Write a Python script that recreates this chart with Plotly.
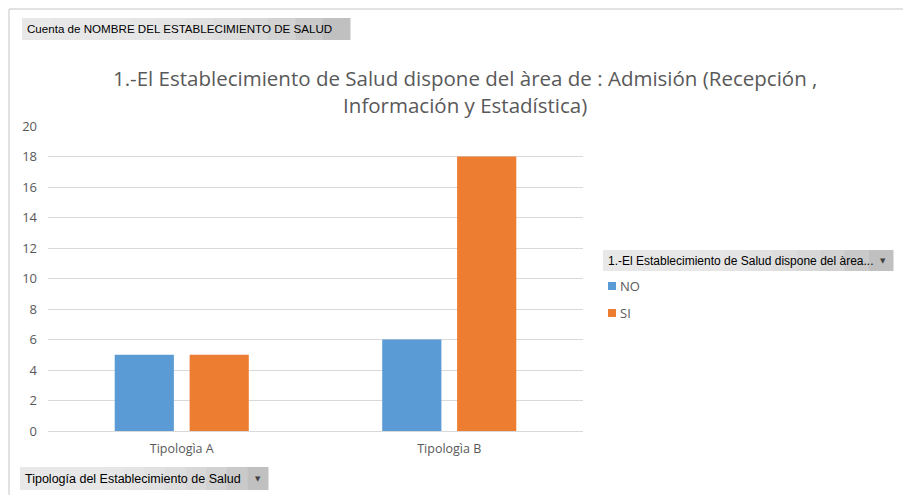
import plotly.graph_objects as go

categories = ["Tipologìa A", "Tipologìa B"]
series_names = ["NO", "SI"]
values_no = [5, 6]
values_si = [5, 18]
colors = ["#5b9bd5", "#ed7d31"]
y_ticks = [0, 2, 4, 6, 8, 10, 12, 14, 16, 18, 20]

title_text = ("1.-El Establecimiento de Salud dispone del àrea de : Admisión (Recepción ,"
              "<br>Información y Estadística)")
top_button = "Cuenta de NOMBRE DEL ESTABLECIMIENTO DE SALUD"
legend_button = "1.-El Establecimiento de Salud dispone del àrea..."
axis_button = "Tipología del Establecimiento de Salud"

W, H = 903, 495
L, R, T, B = 48, 583, 126, 431

fig = go.Figure()
for name, vals, col in zip(series_names, [values_no, values_si], colors):
    fig.add_trace(go.Bar(x=categories, y=vals, name=name, marker=dict(color=col, line=dict(width=0))))

def px(x):
    return (x - L) / (R - L)

def py(y):
    return (B - y) / (B - T)

shapes = []
annotations = []

# border of chart area
shapes.append(dict(type="line", xref="paper", yref="paper", x0=px(9), x1=px(903), y0=py(9), y1=py(9),
                   line=dict(color="#d9d9d9", width=1.5)))
shapes.append(dict(type="line", xref="paper", yref="paper", x0=px(9), x1=px(9), y0=py(9), y1=py(495),
                   line=dict(color="#d9d9d9", width=1.5)))

def button(x0, x1, y0, y1, text, arrow=False, size=12):
    n = 12
    w = (x1 - x0) / n
    for i in range(n):
        t = i / (n - 1)
        g = int(232 - 40 * (t ** 3))
        shapes.append(dict(type="rect", xref="paper", yref="paper",
                           x0=px(x0 + i * w), x1=px(x0 + (i + 1) * w + 0.5),
                           y0=py(y1), y1=py(y0), fillcolor=f"rgb({g},{g},{g})",
                           line=dict(width=0), layer="below"))
    annotations.append(dict(xref="paper", yref="paper", x=px(x0 + 3), y=py((y0 + y1) / 2),
                            xanchor="left", yanchor="middle", text=text, showarrow=False,
                            font=dict(family="Liberation Sans, Arial", size=size, color="#000000")))
    if arrow:
        annotations.append(dict(xref="paper", yref="paper", x=px(x1 - 10), y=py((y0 + y1) / 2),
                                xanchor="center", yanchor="middle", text="▼", showarrow=False,
                                font=dict(family="DejaVu Sans", size=7, color="#404040")))

button(22, 350, 18, 40, top_button, size=11.6)
button(603, 893, 250, 271, legend_button, arrow=True, size=12)
button(20, 268, 467, 490, axis_button, arrow=True, size=12.5)

# legend entries (built from series names / colors)
legend_y = [286, 313]
for name, col, ly in zip(series_names, colors, legend_y):
    shapes.append(dict(type="rect", xref="paper", yref="paper",
                       x0=px(608), x1=px(616), y0=py(ly + 4), y1=py(ly - 4),
                       fillcolor=col, line=dict(width=0)))
    annotations.append(dict(xref="paper", yref="paper", x=px(618), y=py(ly),
                            xanchor="left", yanchor="middle", text=name, showarrow=False,
                            font=dict(family="Open Sans, Noto Sans", size=13, color="#595959")))

annotations.append(dict(xref="paper", yref="paper", x=px(465), y=py(91), xanchor="center",
                        yanchor="middle", text=title_text, showarrow=False, align="center",
                        font=dict(family="Open Sans, Noto Sans", size=20.5, color="#595959")))

fig.update_layout(
    width=W, height=H,
    margin=dict(l=L, r=W - R, t=T, b=H - B, pad=0, autoexpand=False),
    paper_bgcolor="white", plot_bgcolor="white",
    barmode="group", bargap=0.44, bargroupgap=0.21,
    showlegend=False,
    xaxis=dict(showgrid=False, showline=True, linecolor="#d9d9d9", linewidth=1,
               ticks="", ticklabelstandoff=6,
               tickfont=dict(family="Open Sans, Noto Sans", size=12.5, color="#595959"),
               range=[-0.5, 1.5]),
    yaxis=dict(range=[0, 20], tickvals=y_ticks, showgrid=True, gridcolor="#d9d9d9", gridwidth=1,
               zeroline=False, ticks="", ticklabelstandoff=10,
               tickfont=dict(family="Open Sans, Noto Sans", size=13, color="#595959")),
    shapes=shapes, annotations=annotations,
)

fig.write_html("out.html", config={"displayModeBar": False},
               post_script="document.body.style.margin='0';document.body.style.overflow='hidden';")
